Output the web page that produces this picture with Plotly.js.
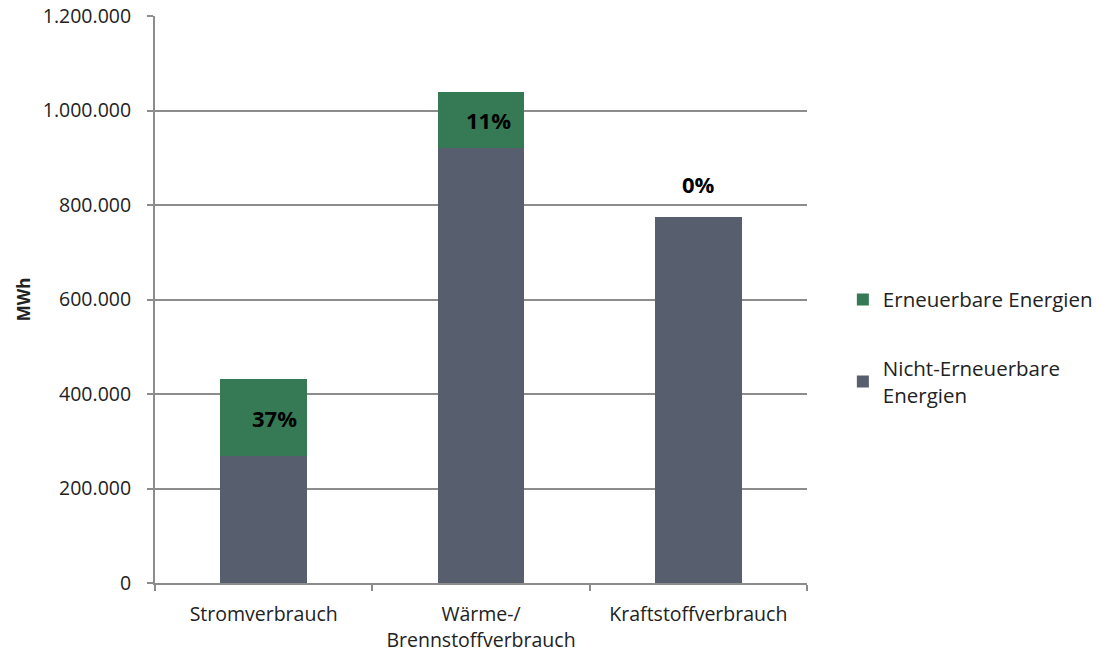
<!DOCTYPE html>
<html><head><meta charset="utf-8">
<script src="https://cdn.plot.ly/plotly-3.0.1.min.js"></script>
<style>body{margin:0;background:#fff}#c{width:1100px;height:652px}</style>
</head><body><div id="c"></div>
<script>
const categories = ['Stromverbrauch', 'Wärme-/<br>Brennstoffverbrauch', 'Kraftstoffverbrauch'];
const nichtErneuerbar = [269400, 920600, 774000];
const erneuerbar = [161700, 117900, 0];
const pctLabels = ['37%', '11%', '0%'];
const yTicks = [0, 200000, 400000, 600000, 800000, 1000000, 1200000];

const font = 'Open Sans, sans-serif';
const traces = [
  {type:'bar', name:'Nicht-Erneuerbare<br>Energien', x:categories, y:nichtErneuerbar,
   legendgroup:'b', legendrank:2, marker:{color:'#575e6e'}},
  {type:'bar', name:'Erneuerbare Energien', x:categories, y:erneuerbar,
   legendgroup:'a', legendrank:1, marker:{color:'#357a55'}}
];
const anns = categories.map((c,i)=>{
  const total = nichtErneuerbar[i]+erneuerbar[i];
  if (erneuerbar[i] > 0) {
    return {x:c, y:nichtErneuerbar[i]+erneuerbar[i]/2, text:'<b>'+pctLabels[i]+'</b>', showarrow:false,
      xshift: i===0?11:7, font:{family:font,size:22,color:'#000'}};
  }
  return {x:c, y:total, text:'<b>'+pctLabels[i]+'</b>', showarrow:false, yshift:33,
    font:{family:font,size:22,color:'#000'}};
});
const layout = {
  width:1100, height:652,
  margin:{l:155, r:293, t:16, b:69, autoexpand:false},
  paper_bgcolor:'#fff', plot_bgcolor:'#fff',
  barmode:'stack', bargap:0.6,
  separators:',.',
  font:{family:font, size:19, color:'#222'},
  xaxis:{showline:true, linecolor:'#8c8c8c', linewidth:2, ticks:'outside', tickson:'boundaries',
    ticklen:6, tickcolor:'#8c8c8c', tickwidth:2, tickfont:{size:19.5,color:'#222'}, showgrid:false,
    ticklabelstandoff:13},
  yaxis:{range:[0,1200000], tickvals:yTicks, tickformat:',d', showline:true, linecolor:'#8c8c8c',
    linewidth:2, ticks:'outside', ticklen:6, tickcolor:'#8c8c8c', tickwidth:2,
    gridcolor:'#8c8c8c', gridwidth:2, zeroline:false, tickfont:{size:19.5,color:'#222'},
    ticklabelstandoff:12,
    title:{text:'<b>MWh</b>', font:{size:17,color:'#222'}, standoff:8}},
  legend:{x:1.055, y:0.416, xanchor:'left', yanchor:'middle', traceorder:'grouped',
    tracegroupgap:39, itemsizing:'constant', font:{size:20.5,color:'#222'}},
  annotations:anns
};
Plotly.newPlot('c', traces, layout, {displayModeBar:false, staticPlot:true});
</script></body></html>
